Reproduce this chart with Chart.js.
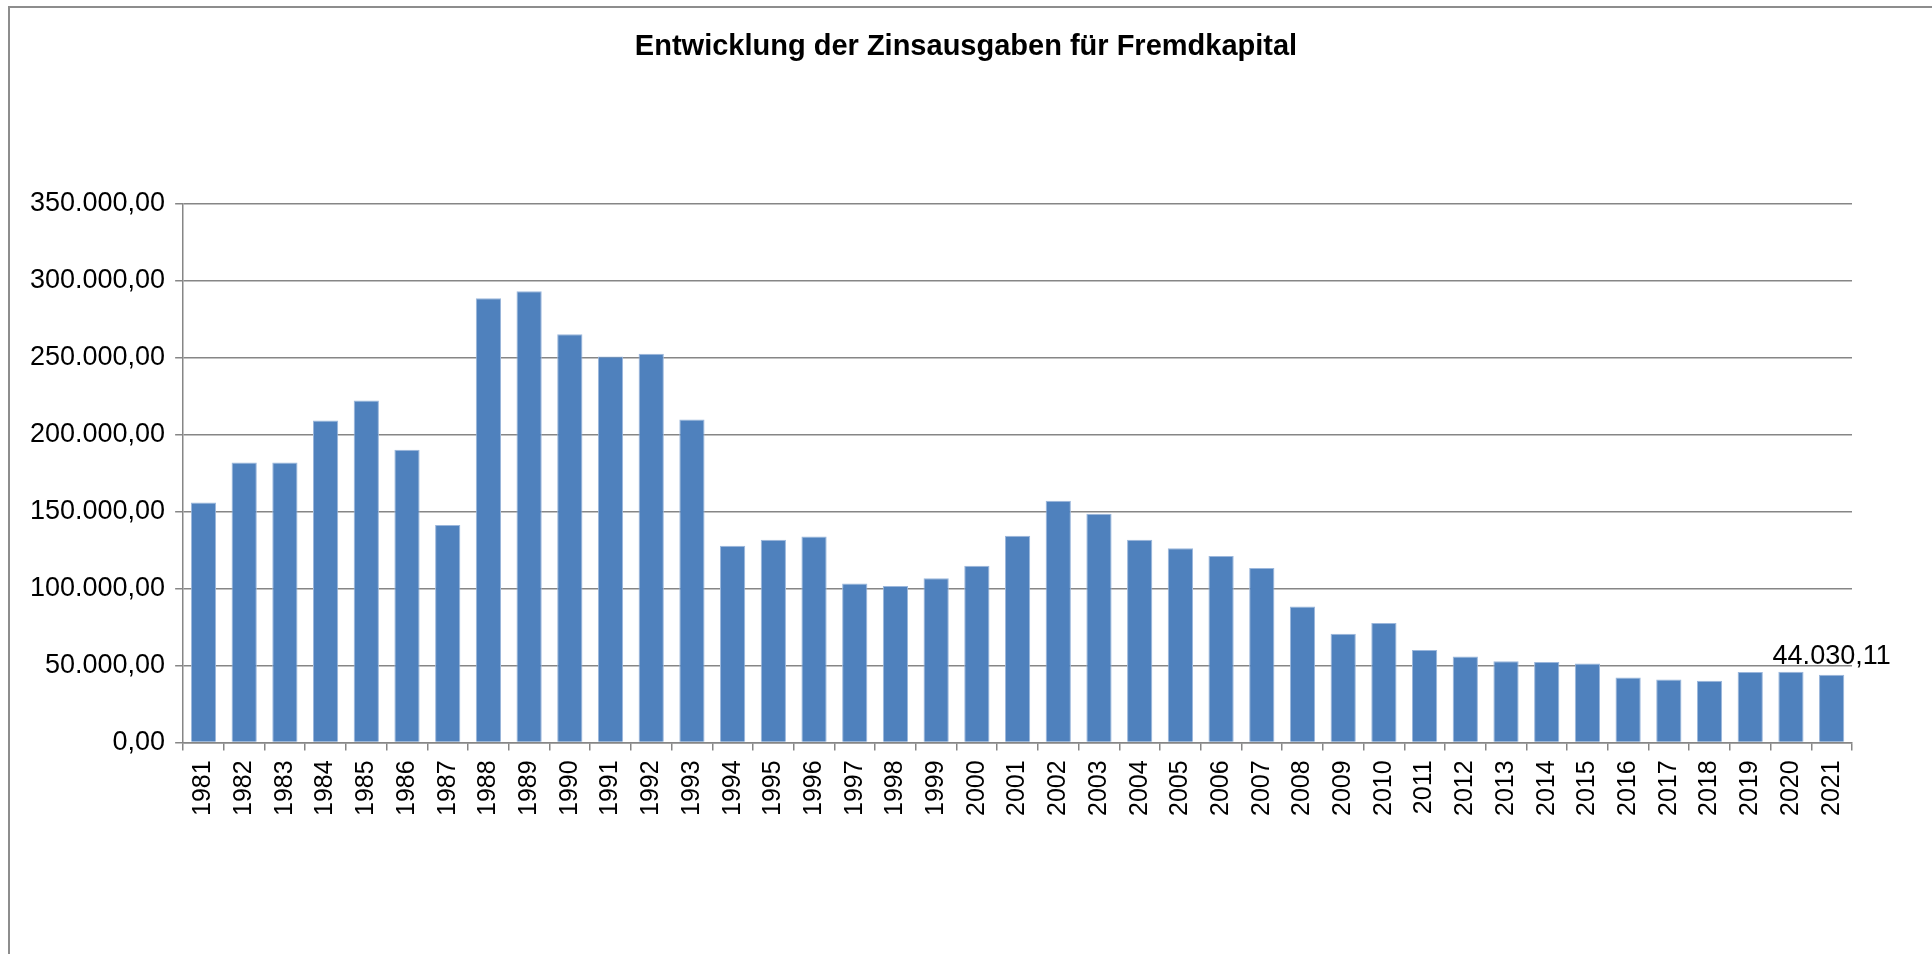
<!DOCTYPE html>
<html>
<head>
<meta charset="utf-8">
<script src="https://cdn.jsdelivr.net/npm/chart.js@4"></script>
<style>
  html, body { margin: 0; padding: 0; background: #fff; overflow: hidden; }
  .wrap { position: relative; width: 1932px; height: 954px; }
  .frame { position: absolute; left: 8px; top: 6px; width: 1940px; height: 960px;
           border-left: 2px solid #8d8d8d; border-top: 2px solid #8d8d8d; }
  canvas { position: absolute; left: 0; top: 0; }
</style>
</head>
<body>
<div class="wrap">
  <div class="frame"></div>
  <canvas id="zinsChart" width="1932" height="954"></canvas>
</div>
<script>
const years = ["1981","1982","1983","1984","1985","1986","1987","1988","1989","1990",
  "1991","1992","1993","1994","1995","1996","1997","1998","1999","2000",
  "2001","2002","2003","2004","2005","2006","2007","2008","2009","2010",
  "2011","2012","2013","2014","2015","2016","2017","2018","2019","2020","2021"];

const zinsausgaben = [156000, 182000, 182000, 209200, 222300, 190300, 141300, 288800, 293300, 265400,
  250900, 252600, 209900, 127900, 131800, 133800, 103300, 101600, 106700, 114900,
  134400, 157100, 148700, 131800, 126200, 121200, 113400, 88300, 70700, 77600,
  60000, 55900, 52800, 52200, 51300, 42200, 40900, 40000, 45700, 45900, 44030.11];

const yTicks = [0, 50000, 100000, 150000, 200000, 250000, 300000, 350000];

const chartTitle = "Entwicklung der Zinsausgaben für Fremdkapital";

// deutsches Zahlenformat: 350.000,00
function formatDE(value) {
  const parts = Number(value).toFixed(2).split(".");
  const intPart = parts[0].replace(/\B(?=(\d{3})+(?!\d))/g, ".");
  return intPart + "," + parts[1];
}

// Titel mittig über die ganze Zeichenfläche (nicht nur über den Plotbereich)
const pageTitle = {
  id: "pageTitle",
  afterDraw(chart) {
    const ctx = chart.ctx;
    ctx.save();
    ctx.font = "bold 29px 'Liberation Sans', Arial, sans-serif";
    ctx.fillStyle = "#000";
    ctx.textAlign = "center";
    ctx.textBaseline = "middle";
    ctx.fillText(chartTitle, chart.width / 2, 47);
    ctx.restore();
  }
};

// nur der letzte Balken bekommt eine Beschriftung
const lastLabel = {
  id: "lastLabel",
  afterDatasetsDraw(chart) {
    const meta = chart.getDatasetMeta(0);
    const i = zinsausgaben.length - 1;
    const bar = meta.data[i];
    const ctx = chart.ctx;
    ctx.save();
    ctx.font = "27px 'Liberation Sans', Arial, sans-serif";
    ctx.fillStyle = "#000";
    ctx.textAlign = "center";
    ctx.textBaseline = "alphabetic";
    ctx.fillText(formatDE(zinsausgaben[i]), bar.x, bar.y - 11);
    ctx.restore();
  }
};

const ctx = document.getElementById("zinsChart").getContext("2d");

new Chart(ctx, {
  type: "bar",
  data: {
    labels: years,
    datasets: [
      {
        label: "Zinsausgaben",
        data: zinsausgaben,
        backgroundColor: "#4F81BD",
        borderColor: "#9bb7dc",
        borderWidth: 1,
        borderSkipped: "bottom",
        barPercentage: 0.62,
        categoryPercentage: 1.0,
      },
    ],
  },
  options: {
    responsive: false,
    animation: false,
    layout: {
      padding: { left: 20, right: 80, top: 204, bottom: 128 },
    },
    scales: {
      x: {
        grid: {
          display: true,
          drawOnChartArea: false,
          drawTicks: true,
          tickLength: 8,
          color: "#868686",
          lineWidth: 1.5,
          offset: true,
        },
        border: { display: true, color: "#868686", width: 1.5 },
        ticks: {
          autoSkip: false,
          minRotation: 90,
          maxRotation: 90,
          padding: 10,
          color: "#000",
          font: { family: "'Liberation Sans', Arial, sans-serif", size: 25 },
        },
      },
      y: {
        min: 0,
        max: 350000,
        afterBuildTicks: (scale) => {
          scale.ticks = yTicks.map((v) => ({ value: v }));
        },
        grid: {
          color: "#868686",
          lineWidth: 1.5,
          tickLength: 8,
        },
        border: { display: true, color: "#868686", width: 1.5 },
        ticks: {
          padding: 10,
          color: "#000",
          font: { family: "'Liberation Sans', Arial, sans-serif", size: 27 },
          callback: function (value) {
            return formatDE(value);
          },
        },
      },
    },
    plugins: {
      legend: { display: false },
      tooltip: { enabled: false },
      title: { display: false },
    },
  },
  plugins: [pageTitle, lastLabel],
});
</script>
</body>
</html>
